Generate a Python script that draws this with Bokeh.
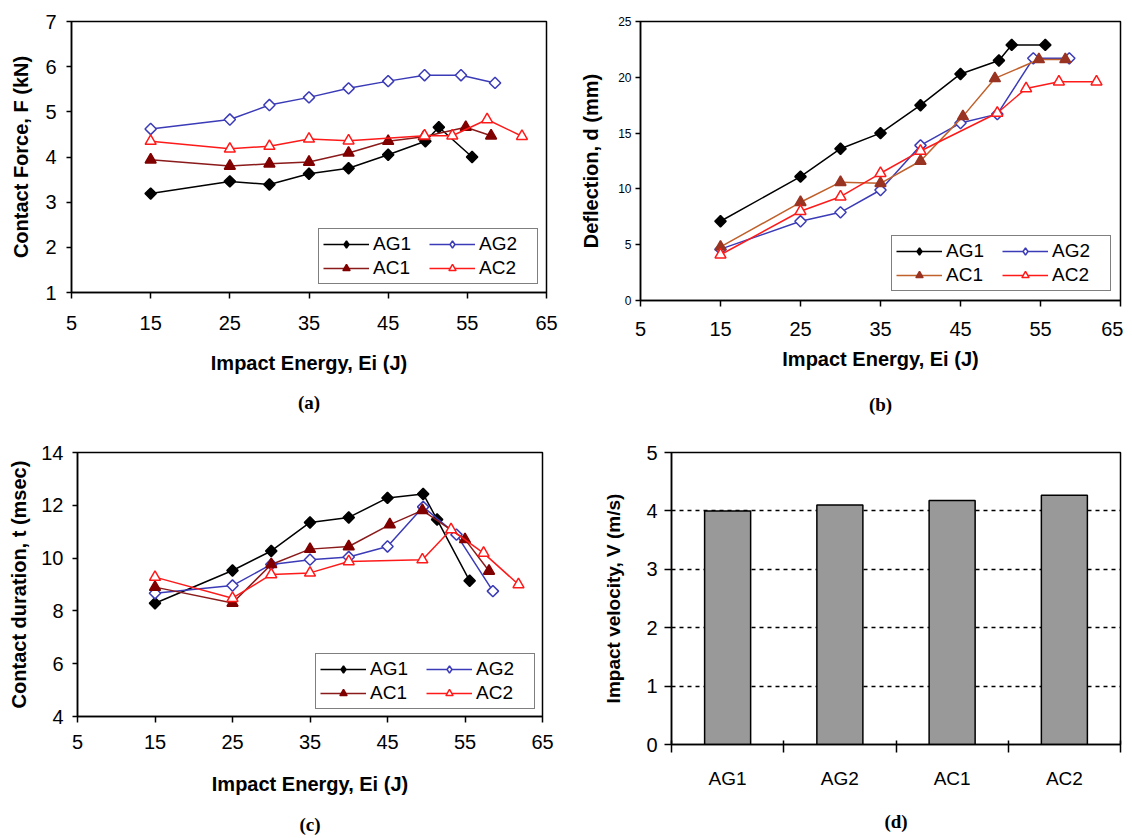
from bokeh.plotting import figure
from bokeh.layouts import column, row
from bokeh.models import FixedTicker, Range1d, Legend, LegendItem, Title
from bokeh.embed import file_html
from bokeh.resources import INLINE

# ---------------- data ----------------
series_names = ["AG1", "AG2", "AC1", "AC2"]

# (a) contact force
a_AG1_x = [15, 25, 30, 35, 40, 45, 49.7, 51.4, 55.6]
a_AG1_y = [3.19, 3.46, 3.39, 3.63, 3.75, 4.05, 4.35, 4.66, 4.0]
a_AG2_x = [15, 25, 30, 35, 40, 45, 49.6, 54.2, 58.5]
a_AG2_y = [4.62, 4.83, 5.15, 5.32, 5.52, 5.68, 5.81, 5.81, 5.64]
a_AC1_x = [15, 25, 30, 35, 40, 45, 49.5, 54.8, 58.0]
a_AC1_y = [3.94, 3.80, 3.85, 3.89, 4.09, 4.35, 4.45, 4.66, 4.47]
a_AC2_x = [15, 25, 30, 35, 40, 49.6, 53.1, 57.5, 61.9]
a_AC2_y = [4.35, 4.18, 4.24, 4.40, 4.36, 4.47, 4.47, 4.83, 4.46]

# (b) deflection
b_AG1_x = [15, 25, 30, 35, 40, 45, 49.8, 51.4, 55.6]
b_AG1_y = [7.1, 11.1, 13.6, 15.0, 17.5, 20.3, 21.5, 22.9, 22.9]
b_AG2_x = [15, 25, 30, 35, 40, 45, 49.6, 54.1, 58.6]
b_AG2_y = [4.6, 7.1, 7.9, 9.9, 13.9, 15.9, 16.7, 21.7, 21.7]
b_AC1_x = [15, 25, 30, 35, 40, 45.3, 49.3, 54.8, 58.1]
b_AC1_y = [4.8, 8.8, 10.6, 10.5, 12.5, 16.5, 19.9, 21.6, 21.6]
b_AC2_x = [15, 25, 30, 35, 40, 49.6, 53.2, 57.3, 62.0]
b_AC2_y = [4.1, 8.0, 9.3, 11.4, 13.4, 16.8, 19.0, 19.6, 19.6]

# (c) contact duration
c_AG1_x = [15, 25, 30, 35, 40, 45, 49.6, 51.4, 55.6]
c_AG1_y = [8.29, 9.53, 10.27, 11.35, 11.54, 12.28, 12.43, 11.46, 9.14]
c_AG2_x = [15, 25, 30, 35, 40, 45, 49.6, 53.9, 58.6]
c_AG2_y = [8.67, 8.96, 9.76, 9.94, 10.04, 10.44, 11.94, 10.89, 8.75]
c_AC1_x = [15, 25, 30, 35, 40, 45.3, 49.5, 55.0, 58.1]
c_AC1_y = [8.90, 8.30, 9.76, 10.34, 10.44, 11.27, 11.81, 10.71, 9.51]
c_AC2_x = [15, 25, 30, 35, 40, 49.5, 53.2, 57.4, 61.9]
c_AC2_y = [9.28, 8.48, 9.38, 9.44, 9.87, 9.94, 11.08, 10.19, 9.00]

# (d) impact velocity
d_groups = ["AG1", "AG2", "AC1", "AC2"]
d_velocity = [4.0, 4.1, 4.18, 4.27]

x_ticks = [5, 15, 25, 35, 45, 55, 65]

SANS = "Liberation Sans"
SERIF = "Liberation Serif"
NAN = float("nan")


def style_axes(p, ytick_size, ylabel_size, ystand, ylstand, xstand, xlstand, ytick_out=5):
    for ax in (p.xaxis[0], p.yaxis[0]):
        ax.axis_line_width = 1.5
        ax.axis_line_color = "black"
        ax.major_tick_line_width = 1.5
        ax.major_tick_line_color = "black"
        ax.major_tick_in = 0
        ax.minor_tick_line_color = None
        ax.major_label_text_font = SANS
        ax.major_label_text_color = "black"
        ax.axis_label_text_font = SANS
        ax.axis_label_text_font_style = "bold"
        ax.axis_label_text_color = "black"
    p.xaxis.major_tick_out = 6
    p.yaxis.major_tick_out = ytick_out
    p.xaxis.major_label_text_font_size = "20px"
    p.yaxis.major_label_text_font_size = ytick_size
    p.xaxis.axis_label_text_font_size = "20px"
    p.yaxis.axis_label_text_font_size = ylabel_size
    p.yaxis.major_label_standoff = ystand
    p.yaxis.axis_label_standoff = ylstand
    p.xaxis.major_label_standoff = xstand
    p.xaxis.axis_label_standoff = xlstand
    p.xgrid.visible = False
    p.ygrid.visible = False
    p.outline_line_color = "black"
    p.outline_line_width = 1.5
    p.background_fill_color = "white"
    p.border_fill_color = "white"


def add_caption(p, text, offset, standoff):
    p.add_layout(Title(text=text, align="center", text_font=SERIF,
                       text_font_size="19px", text_font_style="bold",
                       text_color="black", offset=offset, standoff=standoff), "below")


def line_panel(data, y_rng, y_ticks, y_label, caption, frame, borders, ac1_line, ac1_fill,
               ytick_size, stand, cap_off, cap_stand, legend_margin):
    fw, fh = frame
    bl, br, bt, bb = borders
    p = figure(frame_width=fw, frame_height=fh,
               x_range=Range1d(5, 65), y_range=Range1d(*y_rng),
               min_border_left=bl, min_border_right=br, min_border_top=bt, min_border_bottom=bb,
               toolbar_location=None, output_backend="svg",
               x_axis_label="Impact Energy, Ei (J)", y_axis_label=y_label)
    p.xaxis.ticker = FixedTicker(ticks=x_ticks)
    p.yaxis.ticker = FixedTicker(ticks=y_ticks)
    style_axes(p, ytick_size, "20px", *stand)

    styles = {
        "AG1": dict(color="black", fill="black", marker="square", angle=0.785398, size=8, leg="diamond"),
        "AG2": dict(color="#3B3BB8", fill="white", marker="square", angle=0.785398, size=8, leg="diamond"),
        "AC1": dict(color=ac1_line, fill=ac1_fill, marker="triangle", angle=0.0, size=11, leg=None),
        "AC2": dict(color="#FF1A1A", fill="white", marker="triangle", angle=0.0, size=11, leg=None),
    }
    items = []
    for name in series_names:
        xs, ys = data[name]
        st = styles[name]
        mline = ac1_fill if name == "AC1" else st["color"]
        l = p.line(xs, ys, line_color=st["color"], line_width=1.5)
        s = p.scatter(xs, ys, marker=st["marker"], size=st["size"], angle=st["angle"],
                      fill_color=st["fill"], line_color=mline, line_width=1.5)
        if st["leg"]:
            # legend-only key glyph (unrotated diamond shape), holds no data point
            k = p.scatter([NAN], [NAN], marker=st["leg"], size=10,
                          fill_color=st["fill"], line_color=mline, line_width=1.5)
            items.append(LegendItem(label=name, renderers=[l, k]))
        else:
            items.append(LegendItem(label=name, renderers=[l, s]))
    leg = Legend(items=items, location="bottom_right", orientation="horizontal", ncols=2,
                 border_line_color="black", border_line_width=1.5,
                 background_fill_color="white", background_fill_alpha=1.0,
                 label_text_font=SANS, label_text_font_size="19px", label_text_color="black",
                 glyph_width=46, glyph_height=18, label_height=18, label_width=54,
                 label_standoff=4, spacing=2, padding=4, margin=legend_margin)
    p.add_layout(leg)
    add_caption(p, caption, cap_off, cap_stand)
    return p


pa = line_panel({"AG1": (a_AG1_x, a_AG1_y), "AG2": (a_AG2_x, a_AG2_y),
                 "AC1": (a_AC1_x, a_AC1_y), "AC2": (a_AC2_x, a_AC2_y)},
                (1, 7), [1, 2, 3, 4, 5, 6, 7], "Contact Force, F (kN)", "(a)",
                (475, 271), (71, 23, 21, 127), "#8B1A1A", "#800000",
                "20px", (10, 10, 17, 19), -10, 27, 8)

pb = line_panel({"AG1": (b_AG1_x, b_AG1_y), "AG2": (b_AG2_x, b_AG2_y),
                 "AC1": (b_AC1_x, b_AC1_y), "AC2": (b_AC2_x, b_AC2_y)},
                (0, 25), [0, 5, 10, 15, 20, 25], "Deflection, d (mm)", "(b)",
                (480, 279), (71, 3, 18, 122), "#C0602A", "#993322",
                "12px", (4, 13, 15, 9), 4, 38, 9)

pc = line_panel({"AG1": (c_AG1_x, c_AG1_y), "AG2": (c_AG2_x, c_AG2_y),
                 "AC1": (c_AC1_x, c_AC1_y), "AC2": (c_AC2_x, c_AC2_y)},
                (4, 14), [4, 6, 8, 10, 12, 14], "Contact duration, t (msec)", "(c)",
                (465, 264), (77, 27, 22, 114), "#8B1A1A", "#800000",
                "20px", (9, 8, 12, 21), -15, 28, 7)

# (d) bar chart
pd = figure(frame_width=449, frame_height=292, x_range=Range1d(0, len(d_groups)),
            y_range=Range1d(0, 5), min_border_left=102, min_border_right=3,
            min_border_top=22, min_border_bottom=90, toolbar_location=None,
            output_backend="svg", y_axis_label="Impact velocity, V (m/s)")
bar_x = [i + 0.5 for i in range(len(d_groups))]
pd.vbar(x=bar_x, top=d_velocity, bottom=0, width=0.41, fill_color="#999999",
        line_color="black", line_width=1.5)
style_axes(pd, "20px", "19px", 7, 19, 15, 10, ytick_out=7)
pd.yaxis.ticker = FixedTicker(ticks=[0, 1, 2, 3, 4, 5])
pd.xaxis.ticker = FixedTicker(ticks=bar_x, minor_ticks=list(range(len(d_groups) + 1)))
pd.xaxis.major_label_overrides = {x: g for x, g in zip(bar_x, d_groups)}
pd.xaxis.major_tick_out = 0
pd.xaxis.major_label_text_font_size = "19px"
pd.xaxis.minor_tick_line_color = "black"
pd.xaxis.minor_tick_line_width = 1.5
pd.xaxis.minor_tick_in = 4
pd.xaxis.minor_tick_out = 8
pd.ygrid.visible = True
pd.ygrid.ticker = FixedTicker(ticks=[1, 2, 3, 4])
pd.ygrid.grid_line_color = "black"
pd.ygrid.grid_line_dash = "4 4"
pd.ygrid.grid_line_width = 1.5
add_caption(pd, "(d)", 0, 34)

layout = column(row(pa, pb), row(pc, pd))
open("out.html", "w").write(file_html(layout, INLINE))
